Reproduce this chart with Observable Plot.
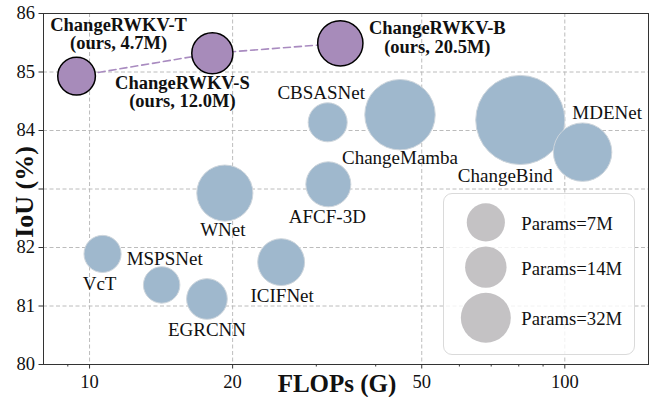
<!DOCTYPE html>
<html><head><meta charset="utf-8">
<script src="https://cdn.jsdelivr.net/npm/d3@7"></script>
<script src="https://cdn.jsdelivr.net/npm/@observablehq/plot@0.6"></script>
<style>
html,body{margin:0;padding:0;background:#fff;}
#chart{position:relative;width:651px;height:397px;font-family:"Liberation Serif","Times New Roman",serif;}
#legend{position:absolute;left:443px;top:193px;width:192px;height:162px;box-sizing:border-box;border:1px solid #dadada;border-radius:9px;background:rgba(255,255,255,0.8);}
#legend svg{position:absolute;left:-1px;top:-1px;}
</style></head><body>
<div id="chart"><div id="legend"></div></div>
<script>
// ---- data ----
const names = ["VcT","MSPSNet","EGRCNN","WNet","ICIFNet","AFCF-3D","CBSASNet","ChangeMamba","ChangeBind","MDENet"];
const flops = [10.65,14.18,17.66,19.26,25.3,31.8,31.7,45.0,80.6,109];
const iou = [81.89,81.36,81.12,82.93,81.75,83.08,84.14,84.27,84.18,83.63];
const params = [3.57,2.21,11,43.07,23.84,20,7.5,73,112,48];

const oursNames = ["ChangeRWKV-T","ChangeRWKV-S","ChangeRWKV-B"];
const oursFlops = [9.39,18.13,33.7];
const oursIou = [84.93,85.32,85.49];
const oursParams = [4.7,12.0,20.5];

const legendParams = [7,14,32];
const xTicks = [10,20,50,100];
const xMinorTicks = [9,30,40,60,70,80,90];
const yTicks = [80,81,82,83,84,85,86];
const yGrid = [81,82,83,84,85];

// ---- tables ----
const others = names.map((n,i)=>({name:n, flops:flops[i], iou:iou[i], params:params[i]}));
const ours = oursNames.map((n,i)=>({name:n, flops:oursFlops[i], iou:oursIou[i], params:oursParams[i],
  label:`${n}\n(ours, ${oursParams[i].toFixed(1)}M)`}));

// ---- layout (label offsets in px) ----
const labelOffset = {
  "VcT":[-3,30], "MSPSNet":[3,-26], "EGRCNN":[0,31], "WNet":[-2,37], "ICIFNet":[1,33.5],
  "AFCF-3D":[-1,32.5], "CBSASNet":[-6.5,-29], "ChangeMamba":[0,43.6], "ChangeBind":[-15,55.5],
  "MDENet":[24.5,-39], "ChangeRWKV-T":[42,-42], "ChangeRWKV-S":[-30,39], "ChangeRWKV-B":[97,-6]
};
const font = '"Liberation Serif","Times New Roman",serif';
const rSpec = {type:"linear", domain:[0,100], range:[17.7,41.7]};
const gridStyle = {stroke:"#b4b4b4", strokeOpacity:1, strokeDasharray:"4,2.5", strokeWidth:0.9};

const labelMarks = [
  ...others.map(d => Plot.text([d], {x:"flops", y:"iou", text:"name", dx:labelOffset[d.name][0], dy:labelOffset[d.name][1], fontSize:19, fontFamily:font, fill:"#111"})),
  ...ours.map(d => Plot.text([d], {x:"flops", y:"iou", text:"label", dx:labelOffset[d.name][0], dy:labelOffset[d.name][1], fontSize:18.5, fontFamily:font, fontWeight:"bold", lineHeight:1, fill:"#111"}))
];

const plot = Plot.plot({
  width:651, height:397, marginLeft:43, marginRight:3, marginTop:13, marginBottom:33,
  style:{fontFamily:font, fontSize:"19px", background:"transparent", color:"#111"},
  x:{type:"log", domain:[8,150]},
  y:{domain:[80,86]},
  r: rSpec,
  marks:[
    Plot.gridX(xTicks, gridStyle),
    Plot.gridY(yGrid, gridStyle),
    Plot.axisX(xMinorTicks, {tickSize:2.5, tickFormat:()=>"", label:null, stroke:"#333"}),
    Plot.axisX(xTicks, {tickSize:4.5, tickPadding:6, tickFormat:d=>String(d), label:null, fontSize:18.5, fontFamily:font, stroke:"#333"}),
    Plot.axisY(yTicks, {tickSize:4.5, tickPadding:4, tickFormat:d=>d===83?"":String(d), label:null, fontSize:18.5, fontFamily:font, stroke:"#333"}),
    Plot.line(ours, {x:"flops", y:"iou", stroke:"#a98bc0", strokeWidth:1.6, strokeDasharray:"7,4"}),
    Plot.dot(others, {x:"flops", y:"iou", r:"params", fill:"#9fb8cd", stroke:"#cdd5dc", strokeWidth:1}),
    Plot.dot(ours, {x:"flops", y:"iou", r:"params", fill:"#a78bba", stroke:"#000", strokeWidth:1.5}),
    ...labelMarks,
    Plot.frame({stroke:"#333", strokeWidth:1}),
    Plot.text(["IoU (%)"], {frameAnchor:"left", textAnchor:"middle", lineAnchor:"middle", rotate:-90, dx:-18.5, dy:3, fontWeight:"bold", fontSize:26, fontFamily:font, fill:"#111"}),
    Plot.text(["FLOPs (G)"], {frameAnchor:"bottom", textAnchor:"middle", lineAnchor:"middle", dx:-9, dy:19, fontWeight:"bold", fontSize:25, fontFamily:font, fill:"#111"})
  ]
});
document.getElementById("chart").prepend(plot);

// ---- legend ----
const rScale = Plot.scale({r: rSpec});
const yPos = []; let acc = 10;
legendParams.forEach(p => { const r = rScale.apply(p); yPos.push(acc + r); acc += 2*r + 5; });
const legendData = legendParams.map((p,i)=>({p, y:yPos[i], label:`Params=${p}M`}));
const legend = Plot.plot({
  width:193, height:163, margin:0,
  style:{fontFamily:font, fontSize:"19px", background:"transparent", color:"#111"},
  x:{axis:null}, y:{type:"identity", axis:null}, r: rSpec,
  marks:[
    Plot.dot(legendData, {frameAnchor:"left", dx:43, y:"y", r:"p", fill:"#c4c2c4"}),
    Plot.text(legendData, {frameAnchor:"left", dx:79, dy:1.5, y:"y", text:"label", textAnchor:"start", lineAnchor:"middle", fontSize:19, fontFamily:font, fill:"#111"})
  ]
});
document.getElementById("legend").append(legend);
</script>
</body></html>
